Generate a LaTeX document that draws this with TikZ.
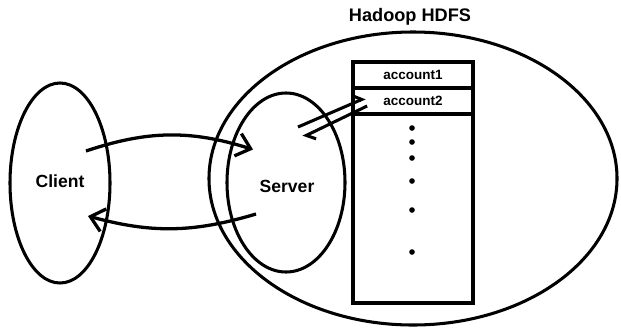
\documentclass[tikz,border=0pt]{standalone}
\usepackage{fontspec}
\setmainfont{Liberation Sans}
\usetikzlibrary{
  arrows.meta,
  calc,
  shapes.geometric
}

\begin{document}
\begin{tikzpicture}[x=0.03cm, y=-0.03cm]

\tikzset{
  region/.style={
    draw,
    ellipse,
    inner sep=0pt,
    line width=2.6pt,
    align=center
  },
  label/.style={
    font=\fontsize{15}{18}\selectfont\bfseries
  },
  record/.style={
    draw,
    rectangle,
    inner sep=0pt,
    minimum width=3.6cm,
    line width=3.2pt,
    font=\fontsize{11.5}{14}\selectfont\bfseries
  },
  request/.style={
    -{Straight Barb[length=4mm, width=7mm]},
    line width=2.8pt
  },
  access/.style={
    -{Straight Barb[left, length=2.2mm, width=4.4mm]},
    line width=2.6pt
  }
}

\useasboundingbox (0,0) rectangle (621,327);

% NODES ----------------------------------------------------------

% Hadoop side
\node[region, minimum width=12.24cm, minimum height=8.79cm] (hdfs) at (413, 178.5) {};
\node[label, font=\fontsize{15.5}{18}\selectfont\bfseries] (hdfslabel) at (410, 17) {Hadoop HDFS};
\node[region, minimum width=3.54cm, minimum height=5.37cm] (server) at (286, 182.5) {};
\node[label] (servertext) at (287, 186) {Server};

% Client side
\node[region, minimum width=3cm, minimum height=6cm] (client) at (60, 183) {};
\node[label] (clienttext) at (60, 181) {Client};

% Stored accounts
\node[record, minimum height=0.78cm] (acc1) at (413, 75)  {account1};
\node[record, minimum height=0.78cm] (acc2) at (413, 101) {account2};
\node[record, minimum height=5.67cm] (rest) at (413, 208.5) {};

% Dots
\foreach \y in {128, 142, 158, 181, 210, 252}
  \fill (412, \y) circle (2.4pt);

% DRAWS ---------------------------------------------------------

% Client <-> Server
\draw[request] ($(client.center)+(26,-32)$) to[bend left=18] ($(server.center)+(-33,-33)$);
\draw[request] ($(server.center)+(-30,31.5)$) to[bend left=16] ($(client.center)+(28,33)$);

% Server <-> account2
\draw[access] ($(server.center)+(12,-55.5)$) -- ($(acc2.west)+(14,-3)$);
\draw[access] ($(acc2.west)+(16,5)$) -- ($(server.center)+(17,-45.5)$);

\end{tikzpicture}
\end{document}
